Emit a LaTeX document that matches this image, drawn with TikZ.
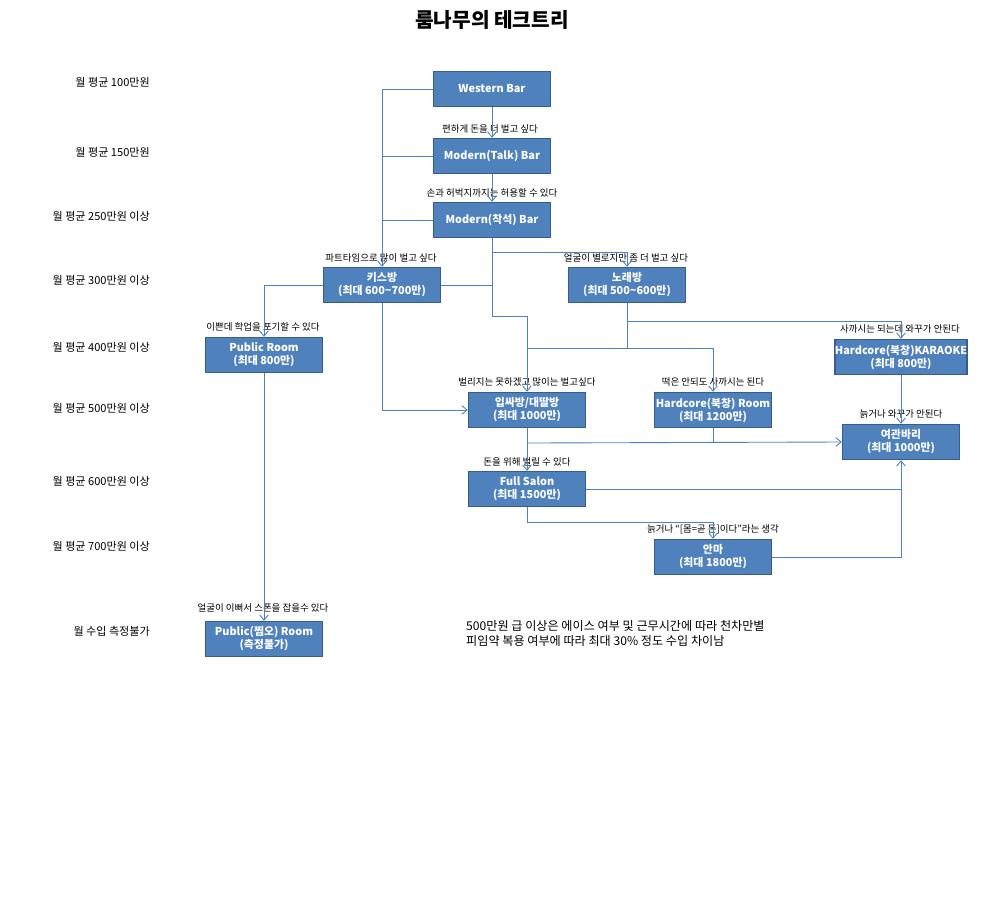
\documentclass[tikz,border=0pt]{standalone}
\usepackage{fontspec}
\setmainfont{Noto Sans CJK KR}
\usetikzlibrary{arrows.meta}
\definecolor{boxblue}{HTML}{4F81BD}
\definecolor{boxedge}{HTML}{385D8A}
\begin{document}
\begin{tikzpicture}[x=0.02cm,y=-0.02cm]
% box size
\def\bw{117}
\def\bh{35}
% node style definition
\tikzstyle{block} = [
	draw=boxedge, line width=0.8pt, fill=boxblue, rectangle, text=white,
	font=\fontsize{6.2}{7.4}\selectfont\bfseries, align=center,
	minimum height=\bh*0.02cm, minimum width=\bw*0.02cm, inner sep=0pt ];
\tikzstyle{plain} = [draw=none, fill=none, font=\fontsize{5.4}{6.5}\selectfont];
\tikzstyle{level} = [draw=none, anchor=east, font=\fontsize{6.3}{7.5}\selectfont];
\tikzstyle{link} = [draw=boxblue, line width=0.5pt];
\tikzstyle{flow} = [link, -{Straight Barb[length=3pt,width=5pt]}];
\useasboundingbox (0,0) rectangle (1000,897);
\node[font=\fontsize{11.5}{13}\selectfont\bfseries] (title) at (492,20) {룸나무의 테크트리};
% income levels
\node[level] (l1) at (156,82) {월 평균 100만원};
\node[level] (l2) at (156,152) {월 평균 150만원};
\node[level] (l3) at (156,216) {월 평균 250만원 이상};
\node[level] (l4) at (156,280) {월 평균 300만원 이상};
\node[level] (l5) at (156,347) {월 평균 400만원 이상};
\node[level] (l6) at (156,408) {월 평균 500만원 이상};
\node[level] (l7) at (156,481) {월 평균 600만원 이상};
\node[level] (l8) at (156,546) {월 평균 700만원 이상};
\node[level] (l9) at (156,631) {월 수입 측정불가};
% boxes
\node[block] (wb) at (492,89) {Western Bar};
\node[block] (mt) at (492,156) {Modern(Talk) Bar};
\node[block] (ms) at (492,220) {Modern(착석) Bar};
\node[block] (ks) at (382,285) {키스방\\(최대 600\textasciitilde700만)};
\node[block] (nr) at (627,285) {노래방\\(최대 500\textasciitilde600만)};
\node[block] (pr) at (264,355) {Public Room\\(최대 800만)};
\node[block] (hk) at (901,357) {Hardcore(북창)KARAOKE\\(최대 800만)};
\node[block] (ip) at (527,410) {입싸방/대딸방\\(최대 1000만)};
\node[block] (hr) at (713,410) {Hardcore(북창) Room\\(최대 1200만)};
\node[block] (yg) at (901,442) {여관바리\\(최대 1000만)};
\node[block] (fs) at (527,489) {Full Salon\\(최대 1500만)};
\node[block] (am) at (713,557) {안마\\(최대 1800만)};
\node[block] (pj) at (264,639) {Public(찜오) Room\\(측정불가)};
% edge labels
\node[plain] (t1) at (490,129) {편하게 돈을 더 벌고 싶다};
\node[plain] (t2) at (492,193) {손과 허벅지까지는 허용할 수 있다};
\node[plain] (t3) at (381,258) {파트타임으로 많이 벌고 싶다};
\node[plain] (t4) at (626,258) {얼굴이 별로지만 좀 더 벌고 싶다};
\node[plain] (t5) at (263,327) {이쁜데 학업을 포기할 수 있다};
\node[plain] (t6) at (900,329) {사까시는 되는데 와꾸가 안된다};
\node[plain] (t7) at (527,382) {벌리지는 못하겠고 많이는 벌고싶다};
\node[plain] (t8) at (713,382) {떡은 안되도 사까시는 된다};
\node[plain] (t9) at (901,414) {늙거나 와꾸가 안된다};
\node[plain] (t10) at (527,462) {돈을 위해 벌릴 수 있다};
\node[plain] (t11) at (713,529) {늙거나 “[몸=곧 돈]이다”라는 생각};
\node[plain] (t12) at (263,608) {얼굴이 이뻐서 스폰을 잡을수 있다};
\node[draw=none, anchor=north west, align=left, font=\fontsize{6.9}{8.4}\selectfont] (note) at (460,614)
	{500만원 급 이상은 에이스 여부 및 근무시간에 따라 천차만별\\피임약 복용 여부에 따라 최대 30\% 정도 수입 차이남};
% connectors
\draw[flow] (wb) -- (mt);
\draw[flow] (mt) -- (ms);
\draw[flow] (wb.west) -| (ks.north);
\draw[link] (mt.west) -- (382,156);
\draw[link] (ms.west) -- (382,220);
\draw[link] (ks.east) -- (492,285);
\draw[flow] (ms.south) |- (627,252) -- (nr.north);
\draw[flow] (492,252) |- (527,316) -- (ip.north);
\draw[flow] (527,348) -| (hr.north);
\draw[link] (nr.south) -- (627,348);
\draw[flow] (627,321) -| (hk.north);
\draw[flow] (ks.west) -| (pr.north);
\draw[flow] (ks.south) |- (ip.west);
\draw[flow] (pr.south) -- (pj.north);
\draw[flow] (ip.south) -- (fs.north);
\draw[flow] (527,443) -- (yg.west);
\draw[link] (hr.south) -- (713,443);
\draw[flow] (hk.south) -- (yg.north);
\draw[link] (fs.east) -- (901,489);
\draw[flow] (am.east) -| (yg.south);
\draw[flow] (fs.south) |- (713,522) -- (am.north);
\end{tikzpicture}
\end{document}
